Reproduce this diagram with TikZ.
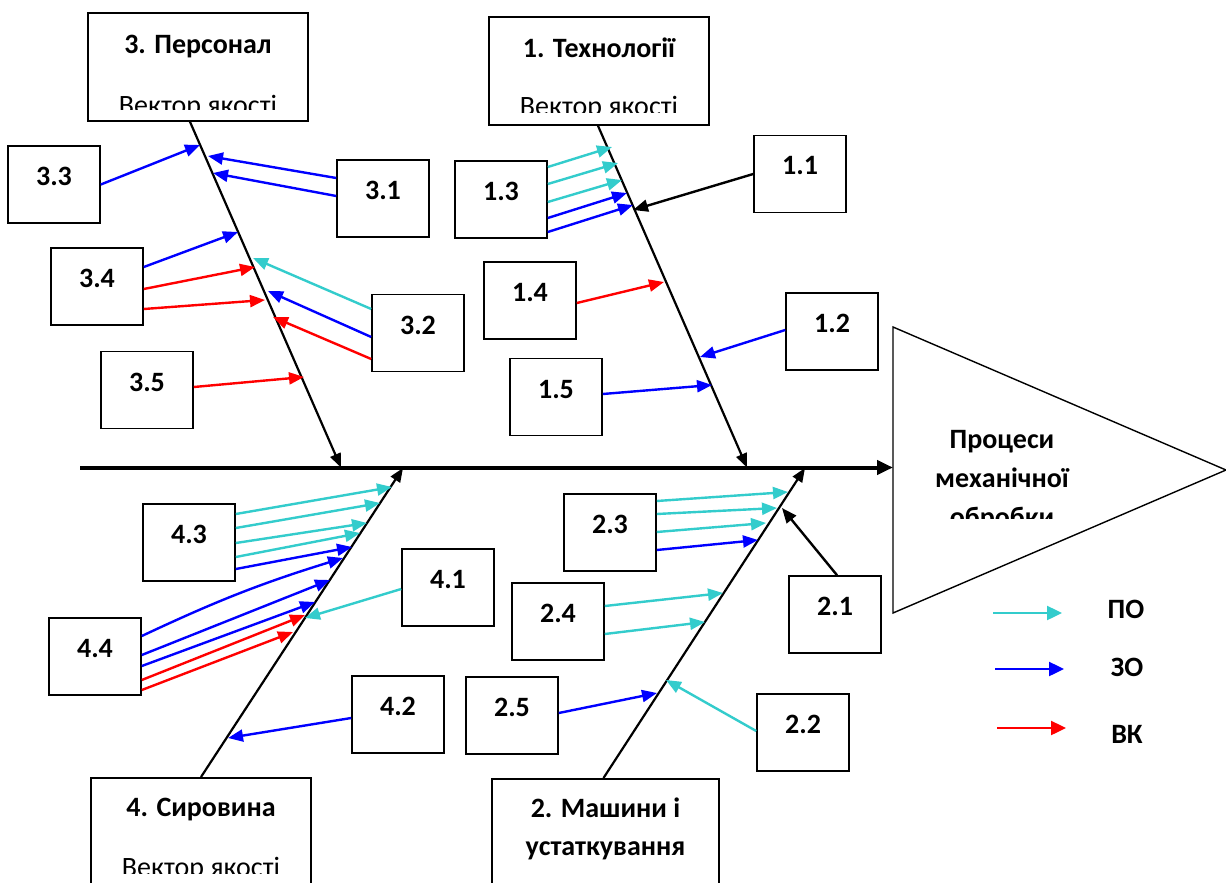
\documentclass[tikz,border=0pt]{standalone}
\usepackage{fontspec}
\setmainfont{Carlito}
\usetikzlibrary{arrows.meta}

\definecolor{poC}{RGB}{51,204,204}
\definecolor{zoC}{RGB}{0,0,255}
\definecolor{vkC}{RGB}{255,0,0}

% centred lines in a \vtop, so the baseline is that of the first line
\newcommand\centrelines[2]{\vtop{\baselineskip=#1\relax\halign{\hfil##\hfil\cr#2\crcr}}}

\tikzset{
  txt/.style={font=\fontsize{14}{17}\selectfont},
  btxt/.style={font=\fontsize{14}{17}\selectfont\bfseries},
  cell/.style={draw, line width=0.8pt, inner sep=0pt, minimum width=46pt,
    minimum height=38.5pt, text height=19.75pt, text depth=18.75pt, btxt},
  head/.style={draw, line width=0.8pt, inner sep=0pt, minimum width=110pt,
    minimum height=54pt, text height=20.5pt, text depth=33.5pt, btxt},
  foot/.style={head, anchor=north, minimum height=60pt, text height=19.5pt, text depth=40.5pt},
  sub/.style={anchor=base, inner sep=0pt, txt},
  bone/.style={line width=1.1pt, -{Triangle[length=7pt,width=5.5pt]}},
  spine/.style={line width=2pt, -{Triangle[length=8pt,width=7pt]}},
  feed/.style={line width=1.2pt, -{Triangle[length=7.5pt,width=6pt]}},
  po/.style={feed, color=poC},
  zo/.style={feed, color=zoC},
  vk/.style={feed, color=vkC},
  bk/.style={feed, color=black},
}

\begin{document}
\begin{tikzpicture}[x=0.5pt, y=-0.5pt]
\useasboundingbox (0,0) rectangle (1226,883);
\fill[white] (0,0) rectangle (1226,883);
\clip (0,0) rectangle (1226,883);

% ---------- category boxes ----------
\node[head] (c3) at (198,67) {3. Персонал};
\node[head] (c1) at (599,71) {1. Технології};
\node[foot] (c4) at (201,777) {4. Сировина};
\node[foot, minimum width=113.5pt] (c2) at (605.5,778) {\centrelines{19pt}{2. Машини і\cr устаткування}};

\begin{scope}
  \clip (c3.north west) rectangle (c3.east |- 0,110);
  \node[sub] (v3) at (198,115) {Вектор якості};
\end{scope}
\begin{scope}
  \clip (c1.north west) rectangle (c1.east |- 0,113);
  \node[sub] (v1) at (599,116) {Вектор якості};
\end{scope}
\begin{scope}
  \clip (c4.north west) rectangle (c4.east |- 0,873);
  \node[sub] (v4) at (201,876) {Вектор якості};
\end{scope}

% ---------- factor boxes ----------
\node[cell] (b33) at (54,184.5) {3.3};
\node[cell] (b31) at (383,198.5) {3.1};
\node[cell] (b34) at (97,286.5) {3.4};
\node[cell] (b32) at (418,333) {3.2};
\node[cell] (b35) at (147,390) {3.5};
\node[cell] (b13) at (501,199.5) {1.3};
\node[cell] (b11) at (800,174) {1.1};
\node[cell] (b14) at (530,300.5) {1.4};
\node[cell] (b12) at (832,331.5) {1.2};
\node[cell] (b15) at (556,397) {1.5};
\node[cell] (b43) at (189,542.5) {4.3};
\node[cell] (b41) at (448,587.5) {4.1};
\node[cell] (b44) at (95,656.5) {4.4};
\node[cell] (b42) at (398,714.5) {4.2};
\node[cell] (b23) at (610,532.5) {2.3};
\node[cell] (b24) at (558,621.5) {2.4};
\node[cell] (b21) at (835,614.5) {2.1};
\node[cell] (b25) at (512,715.5) {2.5};
\node[cell] (b22) at (803,732.5) {2.2};

% ---------- effect (triangle) ----------
\coordinate (tA) at (893,327);
\coordinate (tB) at (1226,470);
\coordinate (tC) at (893,613);
\draw[line width=0.7pt] (tA) -- (tB) -- (tC) -- cycle;
\begin{scope}
  \clip (893,327) rectangle (1226,518);
  \node[anchor=base, inner sep=0pt, btxt] (proc) at (1002,448)
    {\centrelines{19.5pt}{Процеси\cr механічної\cr обробки}};
\end{scope}

% ---------- spine and bones ----------
\coordinate (sp0) at (80,467.5);
\coordinate (tri) at (893,467.5);
\draw[spine] (sp0) -- (tri);

\coordinate (j3) at (341,467.5);
\coordinate (j1) at (747,467.5);
\coordinate (j4) at (403,468);
\coordinate (j2) at (805,468);
\draw[bone] ([xshift=-4pt]c3.south) -- (j3);
\draw[bone] ([xshift=-0.5pt]c1.south) -- (j1);
\draw[bone] (c4.north) -- (j4);
\draw[bone] ([xshift=-1pt]c2.north) -- (j2);

% ---------- feeds on bone 3 ----------
\coordinate (f1) at (200,145);
\coordinate (f2) at (208,156);
\coordinate (f3) at (213,173);
\coordinate (f4) at (238,232);
\coordinate (f5) at (255,267);
\coordinate (f6) at (265,300);
\coordinate (f7) at (253,258);
\coordinate (f8) at (268,291);
\coordinate (f9) at (273,317);
\coordinate (f10) at (304,377);
\draw[zo] (b33.east) -- (f1);
\draw[zo] (b31.west |- 0,178) -- (f2);
\draw[zo] (b31.west |- 0,196) -- (f3);
\draw[zo] (b34.east |- 0,267) -- (f4);
\draw[vk] (b34.east |- 0,289) -- (f5);
\draw[vk] (b34.east |- 0,309) -- (f6);
\draw[po] (b32.west |- 0,309) -- (f7);
\draw[zo] (b32.west |- 0,337) -- (f8);
\draw[vk] (b32.west |- 0,359) -- (f9);
\draw[vk] (b35.east |- 0,387) -- (f10);

% ---------- feeds on bone 1 ----------
\coordinate (g1) at (612,147);
\coordinate (g2) at (618,163);
\coordinate (g3) at (622,180);
\coordinate (g4) at (627,193);
\coordinate (g5) at (633,205);
\coordinate (g6) at (633,210);
\coordinate (g7) at (664,282);
\coordinate (g8) at (700,357);
\coordinate (g9) at (712,385);
\draw[po] (b13.east |- 0,167) -- (g1);
\draw[po] (b13.east |- 0,184) -- (g2);
\draw[po] (b13.east |- 0,202) -- (g3);
\draw[zo] (b13.east |- 0,218) -- (g4);
\draw[zo] (b13.east |- 0,232) -- (g5);
\draw[bk] (b11.west) -- (g6);
\draw[vk] (b14.east |- 0,303) -- (g7);
\draw[zo] (b12.west |- 0,330) -- (g8);
\draw[zo] (b15.east |- 0,394) -- (g9);

% ---------- feeds on bone 4 ----------
\coordinate (h1) at (392,487);
\coordinate (h2) at (380,503);
\coordinate (h3) at (367,523);
\coordinate (h4) at (360,533);
\coordinate (h5) at (352,547);
\coordinate (h6) at (343,558);
\coordinate (h7) at (330,580);
\coordinate (h8) at (315,602);
\coordinate (h9) at (305,615);
\coordinate (h10) at (293,632);
\coordinate (h11) at (305,618);
\coordinate (h12) at (228,738);
\draw[po] (b43.east |- 0,514) -- (h1);
\draw[po] (b43.east |- 0,528) -- (h2);
\draw[po] (b43.east |- 0,543) -- (h3);
\draw[po] (b43.east |- 0,557) -- (h4);
\draw[zo] (b43.east |- 0,569) -- (h5);
\draw[zo] (b44.east |- 0,636) to[bend left=4] (h6);
\draw[zo] (b44.east |- 0,655) -- (h7);
\draw[zo] (b44.east |- 0,666) -- (h8);
\draw[vk] (b44.east |- 0,680) -- (h9);
\draw[vk] (b44.east |- 0,690) -- (h10);
\draw[po] (b41.west |- 0,589) -- (h11);
\draw[zo] (b42.west |- 0,718) -- (h12);

% ---------- feeds on bone 2 ----------
\coordinate (k1) at (788,492);
\coordinate (k2) at (777,508);
\coordinate (k3) at (766,523);
\coordinate (k4) at (758,540);
\coordinate (k5) at (782,508);
\coordinate (k6) at (723,593);
\coordinate (k7) at (705,622);
\coordinate (k8) at (657,693);
\coordinate (k9) at (666,680);
\draw[po] (b23.east |- 0,501) -- (k1);
\draw[po] (b23.east |- 0,514) -- (k2);
\draw[po] (b23.east |- 0,532) -- (k3);
\draw[zo] (b23.east |- 0,550) -- (k4);
\draw[bk] ([xshift=1pt]b21.north) -- (k5);
\draw[po] (b24.east |- 0,606) -- (k6);
\draw[po] (b24.east |- 0,634) -- (k7);
\draw[zo] (b25.east |- 0,713) -- (k8);
\draw[po] (b22.west |- 0,731) -- (k9);

% ---------- legend ----------
\node[btxt, inner sep=0pt] (lPO) at (1126,609) {ПО};
\node[btxt, inner sep=0pt] (lZO) at (1127,667) {ЗО};
\node[btxt, inner sep=0pt] (lVK) at (1127,734) {ВК};
\coordinate (m1a) at (993,613);  \coordinate (m1b) at (1062,613);
\coordinate (m2a) at (995,669);  \coordinate (m2b) at (1064,669);
\coordinate (m3a) at (997,728);  \coordinate (m3b) at (1066,728);
\draw[po, -{Triangle[length=7.5pt,width=7pt]}] (m1a) -- (m1b);
\draw[zo, -{Triangle[length=7.5pt,width=7pt]}] (m2a) -- (m2b);
\draw[vk, -{Triangle[length=7.5pt,width=7pt]}] (m3a) -- (m3b);
\end{tikzpicture}
\end{document}
